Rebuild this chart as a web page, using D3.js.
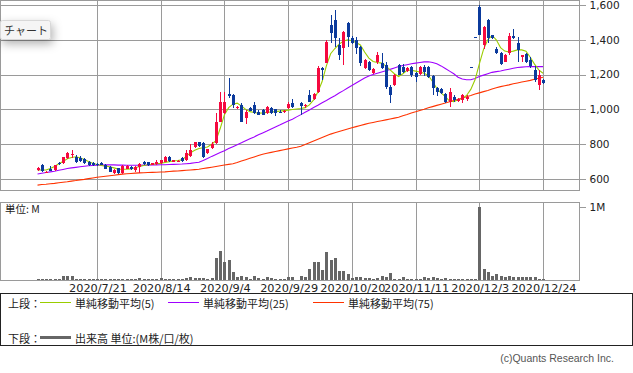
<!DOCTYPE html>
<html><head><meta charset="utf-8">
<script src="https://cdn.jsdelivr.net/npm/d3@7"></script>
<style>
html,body{margin:0;padding:0;background:#fff;}
svg{display:block;}
</style></head><body>
<svg id="chart" width="633" height="373"></svg>
<script>
const dates = ["2020/7/1","2020/7/2","2020/7/3","2020/7/6","2020/7/7","2020/7/8","2020/7/9","2020/7/10","2020/7/13","2020/7/14","2020/7/15","2020/7/16","2020/7/17","2020/7/20","2020/7/21","2020/7/22","2020/7/27","2020/7/28","2020/7/29","2020/7/30","2020/7/31",
"2020/8/3","2020/8/4","2020/8/5","2020/8/6","2020/8/7","2020/8/11","2020/8/12","2020/8/13","2020/8/14","2020/8/17","2020/8/18","2020/8/19","2020/8/20","2020/8/21","2020/8/24","2020/8/25","2020/8/26","2020/8/27","2020/8/28","2020/8/31",
"2020/9/1","2020/9/2","2020/9/3","2020/9/4","2020/9/7","2020/9/8","2020/9/9","2020/9/10","2020/9/11","2020/9/14","2020/9/15","2020/9/16","2020/9/17","2020/9/18","2020/9/23","2020/9/24","2020/9/25","2020/9/28","2020/9/29","2020/9/30",
"2020/10/1","2020/10/2","2020/10/5","2020/10/6","2020/10/7","2020/10/8","2020/10/9","2020/10/12","2020/10/13","2020/10/14","2020/10/15","2020/10/16","2020/10/19","2020/10/20","2020/10/21","2020/10/22","2020/10/23","2020/10/26","2020/10/27","2020/10/28","2020/10/29","2020/10/30",
"2020/11/2","2020/11/4","2020/11/5","2020/11/6","2020/11/9","2020/11/10","2020/11/11","2020/11/12","2020/11/13","2020/11/16","2020/11/17","2020/11/18","2020/11/19","2020/11/20","2020/11/24","2020/11/25","2020/11/26","2020/11/27","2020/11/30",
"2020/12/1","2020/12/2","2020/12/3","2020/12/4","2020/12/7","2020/12/8","2020/12/9","2020/12/10","2020/12/11","2020/12/14","2020/12/15","2020/12/16","2020/12/17","2020/12/18","2020/12/21","2020/12/22","2020/12/23","2020/12/24"];

const open = [652,680,636,657,652,694,690,719,740,725, 721,715,700,690,685,690,680,671,636,661,
 633,658,667,652,671,700,697,681,685,690, 700,728,700,702,723,709,732,786,811,805,
 748,780,805,930,980,1090,1083,1007,1026,949, 1007,1026,987,997,978,1007,1001,987,984,1007,
 1036,null,1036,1018,1085,1060,1100,1239,1268,1486, 1515,1371,1354,1498,1411,1400,1360,1239,1273,1210,
 1273,1268,1256,1131,1141,1256,1245,1222,1245,1210, 1204,1245,1245,1193,1124,1118,1089,1043,1072,1049,
 1055,1059,1245,1415,1588,1371,1515,1425,1346,1323, 1275,1323,1420,1380,1300,1318,1285,1227,1141,1170];
const high = [670,685,645,676,682,700,728,755,767,740, 730,722,705,695,690,695,688,675,655,665,
 680,680,672,672,690,703,700,692,709,712, 730,735,710,712,728,765,800,815,815,810,
 775,815,978,1100,1100,1180,1090,1020,1035,995, 1012,1040,995,1003,1020,1012,1005,995,995,1045,
 1060,null,1040,1030,1110,1095,1250,1245,1400,1544, 1573,1411,1452,1500,1420,1415,1365,1290,1280,1240,
 1330,1325,1270,1140,1205,1262,1262,1245,1250,1215, 1250,1255,1250,1200,1130,1122,1095,1124,1080,1065,
 1089,1080,1245,1415,1601,1480,1520,1430,1360,1330, 1320,1440,1460,1415,1315,1325,1300,1250,1227,1175];
const low = [645,640,633,644,648,680,688,715,720,690, 700,685,675,675,675,678,655,638,630,630,
 628,655,652,640,636,680,675,678,680,688, 698,700,695,698,700,705,728,780,785,718,
 745,775,800,925,975,1068,1010,1000,925,915, 990,975,965,965,975,975,960,980,980,1000,
 1010,null,968,1010,1040,1055,1095,1170,1265,1383, 1360,1285,1256,1360,1375,1320,1250,1235,1220,1205,
 1260,1235,1120,1036,1135,1195,1210,1215,1185,1160, 1200,1190,1180,1083,1075,1090,1035,1014,1045,1040,
 1038,1050,1245,1415,1429,1350,1380,1405,1320,1255, 1270,1310,1405,1270,1270,1265,1240,1160,1112,1145];
const close = [662,645,642,646,680,685,725,748,745,696, 705,690,680,680,680,682,657,642,652,633,
 675,677,656,667,686,685,678,690,700,709, 728,705,709,706,705,748,767,811,790,725,
 771,800,930,1040,1045,1075,1026,1016,930,987, 993,978,968,968,1016,978,978,983,991,1030,
 1016,null,1020,1026,1045,1089,1239,1227,1390,1440, 1411,1314,1446,1417,1383,1354,1268,1285,1227,1233,
 1313,1239,1130,1083,1199,1199,1216,1239,1198,1185, 1245,1216,1187,1124,1101,1095,1043,1101,1055,1059,
 1083,1073,1245,1415,1429,1476,1410,1410,1327,1260, 1313,1423,1410,1340,1310,1275,1250,1170,1199,1151];
// volume in millions
const volume = [0.015,0.012,0.012,0.02,0.012,0.02,0.055,0.055,0.055,0.02, 0.01,0.01,0.01,0.01,0.01,0.01,0.01,0.012,0.01,0.01,
 0.02,0.014,0.008,0.01,0.025,0.012,0.01,0.014,0.018,0.025, 0.02,0.018,0.012,0.015,0.018,0.03,0.04,0.03,0.03,0.03,
 0.015,0.025,0.30,0.40,0.24,0.27,0.11,0.045,0.05,0.035, 0.02,0.05,0.03,0.02,0.035,0.025,0.02,0.018,0.015,0.035,
 0.035,0,0.05,0.035,0.15,0.24,0.24,0.14,0.39,0.27, 0.30,0.13,0.13,0.08,0.03,0.045,0.04,0.03,0.025,0.02,
 0.03,0.05,0.035,0.09,0.015,0.018,0.035,0.02,0.018,0.02, 0.018,0.035,0.025,0.045,0.025,0.01,0.025,0.018,0.01,0.015,
 0.01,0.01,0.006,0.006,1.0,0.15,0.11,0.06,0.08,0.05, 0.045,0.05,0.045,0.035,0.035,0.035,0.045,0.035,0.02,0.015];
const ma5 = [652,652,652,660,672,688,700,716,724,728, 722,712,700,690,683,678,674,670,664,657,
 656,656,658,665,672,678,682,685,688,690, 695,700,703,706,710,730,750,765,775,780,
 784,800,820,890,970,1010,1030,1036,1020,1000, 987,982,978,980,983,985,987,990,993,996,
 999,1002,1005,1010,1026,1055,1100,1160,1250,1320, 1350,1375,1392,1400,1395,1385,1370,1330,1295,1275,
 1270,1266,1250,1227,1205,1189,1205,1225,1225,1220, 1215,1208,1195,1160,1120,1095,1073,1048,1045,1055,
 1062,1080,1115,1170,1260,1345,1400,1425,1400,1355, 1335,1330,1335,1342,1342,1335,1300,1260,1227,1208];
const ma25 = [629,633,637,641,645,650,655,660,664,667, 670,673,676,678,679,680,681,681,681,680,
 680,679,679,679,679,680,680,681,681,682, 682,683,684,685,686,688,690,693,696,707,
 718,730,741,752,763,775,786,797,808,820, 831,842,854,865,876,888,899,910,922,933,
 944,957,970,984,997,1011,1024,1038,1051,1065, 1079,1094,1108,1123,1137,1152,1166,1180,1192,1200,
 1208,1215,1222,1230,1238,1246,1252,1257,1262,1266, 1270,1273,1274,1270,1262,1250,1235,1220,1205,1185,
 1175,1170,1170,1178,1189,1197,1205,1213,1217,1221, 1226,1231,1236,1241,1243,1245,1246,1246,1246,1246];
const ma75 = [565,568,570,573,575,578,581,584,588,591, 595,598,602,606,610,613,616,619,622,625,
 628,630,632,634,635,636,637,638,639,640, 641,643,645,646,648,650,652,654,656,660,
 664,668,672,676,680,684,688,695,703,711, 719,727,735,742,748,753,758,763,768,773,
 778,782,788,798,808,818,828,838,848,858, 866,873,880,887,894,901,908,914,920,925,
 930,935,940,945,950,955,964,971,979,986, 994,1001,1009,1016,1023,1030,1037,1044,1051,1058,
 1065,1073,1080,1088,1095,1102,1109,1117,1124,1131, 1136,1141,1147,1152,1157,1162,1167,1173,1179,1185];

const priceTicks = [600,800,1000,1200,1400,1600];
const volumeTicks = [1];
const dateTicks = ["2020/7/21","2020/8/14","2020/9/4","2020/9/29","2020/10/20","2020/11/11","2020/12/3","2020/12/24"];

const svg = d3.select("#chart");
const W = 579;
const GRID = "#9a9a9a";
const UP = "#f5093f", DOWN = "#0b3a9c";
const FONT = "'DejaVu Sans', sans-serif";
const JFONT = "'Noto Sans CJK JP', sans-serif";

const x = d3.scaleLinear().domain([dates.indexOf("2020/7/21"), dates.indexOf("2020/12/24")]).range([97, 543]);
const y = d3.scaleLinear().domain([600, 1600]).range([179, 5]);
const yv = d3.scaleLinear().domain([0, 1]).range([280, 207]);
const px = i => Math.round(x(i));

const tickIdx = dateTicks.map(d => dates.indexOf(d));

// ---- price panel grid
const gP = svg.append("g").attr("shape-rendering", "crispEdges");
gP.selectAll("line.h").data(priceTicks).join("line")
  .attr("x1", 0).attr("x2", W).attr("y1", d => Math.round(y(d)) + 0.5).attr("y2", d => Math.round(y(d)) + 0.5)
  .attr("stroke", GRID);
gP.selectAll("line.v").data(tickIdx).join("line")
  .attr("x1", d => px(d) + 0.5).attr("x2", d => px(d) + 0.5).attr("y1", 0).attr("y2", 190)
  .attr("stroke", GRID);
gP.append("rect").attr("x", 0.5).attr("y", 0.5).attr("width", W).attr("height", 190)
  .attr("fill", "none").attr("stroke", GRID);

// price axis
const ay = svg.append("g").attr("transform", `translate(${W + 0.5},0)`)
  .call(d3.axisRight(y).tickValues(priceTicks).tickSize(6).tickPadding(4).tickFormat(d3.format(",")));
ay.select(".domain").remove();
ay.selectAll("line").attr("stroke", GRID).attr("shape-rendering", "crispEdges");
ay.selectAll("text").attr("font-family", FONT).attr("font-size", "10.5px").attr("fill", "#222");

// ---- volume panel grid
const gV = svg.append("g").attr("shape-rendering", "crispEdges");
gV.selectAll("line.v").data(tickIdx).join("line")
  .attr("x1", d => px(d) + 0.5).attr("x2", d => px(d) + 0.5).attr("y1", 202).attr("y2", 280)
  .attr("stroke", GRID);
gV.append("rect").attr("x", 0.5).attr("y", 202.5).attr("width", W).attr("height", 78)
  .attr("fill", "none").attr("stroke", GRID);
const av = svg.append("g").attr("transform", `translate(${W + 0.5},0)`)
  .call(d3.axisRight(yv).tickValues(volumeTicks).tickSize(6).tickPadding(4).tickFormat(d => d + "M"));
av.select(".domain").remove();
av.selectAll("line").attr("stroke", GRID).attr("shape-rendering", "crispEdges");
av.selectAll("text").attr("font-family", FONT).attr("font-size", "10.5px").attr("fill", "#222");

svg.append("text").attr("x", 5).attr("y", 213).attr("font-family", JFONT).attr("font-size", "10.5px")
  .attr("fill", "#222").text("単位: M");

// date axis
const ax = svg.append("g").attr("transform", "translate(0.5,280)")
  .call(d3.axisBottom(x).tickValues(tickIdx).tickSize(0).tickPadding(4).tickFormat(i => dates[i]));
ax.select(".domain").remove();
ax.selectAll("text").attr("font-family", FONT).attr("font-size", "11.3px").attr("fill", "#222");

// ---- volume bars
const idx = d3.range(dates.length);
svg.append("g").attr("shape-rendering", "crispEdges").selectAll("rect")
  .data(idx.filter(i => volume[i] > 0)).join("rect")
  .attr("x", i => px(i) - 1).attr("width", 3)
  .attr("y", i => Math.min(Math.round(yv(volume[i])), 279))
  .attr("height", i => 280 - Math.min(Math.round(yv(volume[i])), 279))
  .attr("fill", "#666");

// ---- MA lines
const maLine = d3.line().defined(d => d[1] != null).x(d => x(d[0])).y(d => y(d[1]));
const maSeries = [[ma75, "#ff3300"], [ma25, "#9f00ff"], [ma5, "#9acd00"]];
maSeries.forEach(([arr, col]) => {
  svg.append("path").datum(idx.map(i => [i, arr[i]])).attr("d", maLine)
    .attr("fill", "none").attr("stroke", col).attr("stroke-width", 1.1);
});

// ---- candles
const cg = svg.append("g").attr("shape-rendering", "crispEdges");
const valid = idx.filter(i => open[i] != null);
const col = i => close[i] > open[i] ? UP : DOWN;
cg.selectAll("rect.w").data(valid).join("rect")
  .attr("x", i => px(i)).attr("width", 1)
  .attr("y", i => Math.round(y(high[i])))
  .attr("height", i => Math.max(1, Math.round(y(low[i])) - Math.round(y(high[i]))))
  .attr("fill", col);
cg.selectAll("rect.b").data(valid).join("rect")
  .attr("x", i => px(i) - 1).attr("width", 3)
  .attr("y", i => Math.round(y(Math.max(open[i], close[i]))))
  .attr("height", i => Math.max(1, Math.round(y(Math.min(open[i], close[i]))) - Math.round(y(Math.max(open[i], close[i])))))
  .attr("fill", col);

// ---- "チャート" button
const defs = svg.append("defs");
const f = defs.append("filter").attr("id", "sh").attr("x", "-50%").attr("y", "-80%").attr("width", "220%").attr("height", "300%");
f.append("feDropShadow").attr("dx", 2).attr("dy", 4).attr("stdDeviation", 5).attr("flood-color", "#000").attr("flood-opacity", 0.3);
svg.append("rect").attr("x", 0.5).attr("y", 20.5).attr("width", 50).attr("height", 19).attr("rx", 2)
  .attr("fill", "#f5f5f5").attr("stroke", "#d8d8d8").attr("filter", "url(#sh)");
svg.append("text").attr("x", 4).attr("y", 34.5).attr("font-family", JFONT).attr("font-size", "11px")
  .attr("fill", "#333").text("チャート");

// ---- legend
const lg = svg.append("g");
lg.append("rect").attr("x", 0.5).attr("y", 293.5).attr("width", 632).attr("height", 52)
  .attr("fill", "none").attr("stroke", "#222").attr("shape-rendering", "crispEdges");
const legendItems = [
  {label: "単純移動平均(5)", color: "#9acd00", x: 40},
  {label: "単純移動平均(25)", color: "#9f00ff", x: 168},
  {label: "単純移動平均(75)", color: "#ff3300", x: 313}
];
const ly1 = 302.5, ly2 = 337.5;
lg.append("text").attr("x", 8).attr("y", ly1).attr("dominant-baseline", "central")
  .attr("font-family", JFONT).attr("font-size", "11px").attr("fill", "#222").text("上段：");
legendItems.forEach(d => {
  lg.append("line").attr("x1", d.x).attr("x2", d.x + 31).attr("y1", ly1).attr("y2", ly1)
    .attr("stroke", d.color).attr("stroke-width", 1).attr("shape-rendering", "crispEdges");
  lg.append("text").attr("x", d.x + 35).attr("y", ly1).attr("dominant-baseline", "central")
    .attr("font-family", JFONT).attr("font-size", "11px").attr("fill", "#222").text(d.label);
});
lg.append("text").attr("x", 8).attr("y", ly2).attr("dominant-baseline", "central")
  .attr("font-family", JFONT).attr("font-size", "11px").attr("fill", "#222").text("下段：");
lg.append("line").attr("x1", 40).attr("x2", 71).attr("y1", ly2).attr("y2", ly2)
  .attr("stroke", "#666").attr("stroke-width", 3);
lg.append("text").attr("x", 75).attr("y", ly2).attr("dominant-baseline", "central")
  .attr("font-family", JFONT).attr("font-size", "11px").attr("fill", "#222").text("出来高 単位:(M株/口/枚)");

svg.append("text").attr("x", 614).attr("y", 358).attr("text-anchor", "end").attr("dominant-baseline", "central")
  .attr("font-family", "'Liberation Sans', Arial, sans-serif").attr("font-size", "10.5px").attr("fill", "#555")
  .text("(c)Quants Research Inc.");
</script>
</body></html>
